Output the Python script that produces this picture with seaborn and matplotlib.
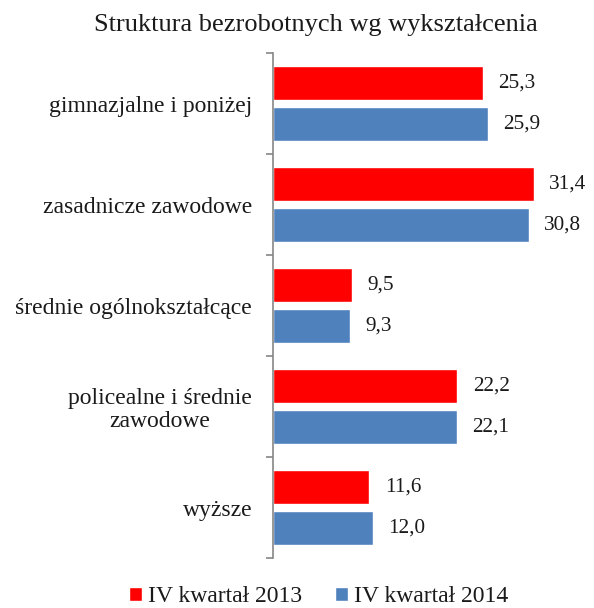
import matplotlib
matplotlib.use("Agg")
import matplotlib.pyplot as plt
import seaborn as sns
import pandas as pd
import numpy as np

# Dane
kategorie = ["gimnazjalne i poniżej", "zasadnicze zawodowe",
             "średnie ogólnokształcące", "policealne i średnie\nzawodowe",
             "wyższe"]
serie = ["IV kwartał 2013", "IV kwartał 2014"]
wartosci_2013 = [25.3, 31.4, 9.5, 22.2, 11.6]
wartosci_2014 = [25.9, 30.8, 9.3, 22.1, 12.0]

df = pd.DataFrame({
    "kategoria": kategorie * 2,
    "seria": [serie[0]] * len(kategorie) + [serie[1]] * len(kategorie),
    "wartosc": wartosci_2013 + wartosci_2014,
})

sns.set_theme(style="white")
plt.rcParams["font.family"] = ["Liberation Serif", "DejaVu Serif"]

fig = plt.figure(figsize=(5.94, 6.08), dpi=100)
ax = fig.add_axes([0.4596, 0.0822, 0.53, 0.8306])

sns.barplot(data=df, y="kategoria", x="wartosc", hue="seria",
            palette=["#FF0000", "#4F81BD"], orient="h",
            width=0.81, gap=0.17, saturation=1, ax=ax, legend=True)

# etykiety wartości z przecinkiem
for kont in ax.containers:
    ax.bar_label(kont, labels=[f"{v:.1f}".replace(".", ",") for v in kont.datavalues],
                 padding=11, fontsize=15.3, color="#1a1a1a")

ax.set_xlim(0, 37.9)
ax.set_ylim(4.5, -0.5)
ax.set_xlabel("")
ax.set_ylabel("")
ax.set_xticks([])

for s in ["top", "right", "bottom"]:
    ax.spines[s].set_visible(False)
ax.spines["left"].set_color("#868686")
ax.spines["left"].set_linewidth(1.2)

# znaczniki między kategoriami
ax.set_yticks(np.arange(-0.5, len(kategorie), 1.0), minor=True)
ax.tick_params(axis="y", which="minor", length=5, width=1.2, color="#868686", left=True)
ax.tick_params(axis="y", which="major", length=0, pad=15, labelsize=17,
               labelcolor="#1a1a1a")
for t in ax.get_yticklabels():
    t.set_multialignment("center")
    t.set_linespacing(1.1)

fig.text(0.532, 1 - 25 / 608, "Struktura bezrobotnych wg wykształcenia",
         ha="center", va="center", fontsize=19, color="#1a1a1a")

ax.get_legend().remove()
fig.legend(*ax.get_legend_handles_labels(), loc="center",
           bbox_to_anchor=(319 / 594, 1 - 597 / 608),
           ncol=2, frameon=False, fontsize=17, handlelength=0.55, handleheight=0.55,
           handletextpad=0.25, columnspacing=1.4, labelcolor="#1a1a1a",
           borderpad=0)

fig.savefig("out.png", dpi=100)
plt.close(fig)
